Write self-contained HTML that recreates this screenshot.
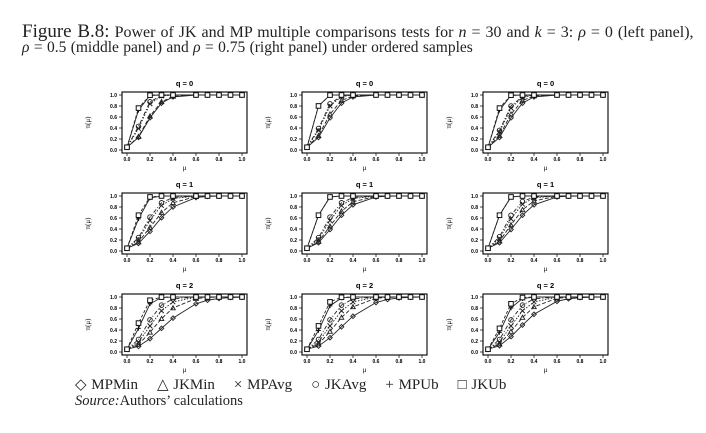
<!DOCTYPE html>
<html><head><meta charset="utf-8"><style>
body{margin:0;background:#fff;width:706px;height:433px;overflow:hidden;position:relative;font-family:"Liberation Serif",serif;}
.t{position:absolute;white-space:nowrap;color:#222;}
</style></head><body>
<div class="t" style="left:22px;top:21px;font-size:16px;word-spacing:1px;"><span style="font-size:19px">Figure B.8:</span> Power of JK and MP multiple comparisons tests for <i>n</i> = 30 and <i>k</i> = 3: <i>ρ</i> = 0 (left panel),</div>
<div class="t" style="left:22px;top:39px;font-size:15.5px;word-spacing:0.5px;"><i>ρ</i> = 0.5 (middle panel) and <i>ρ</i> = 0.75 (right panel) under ordered samples</div>
<div class="t" style="left:75px;top:375px;font-size:15px;word-spacing:1px;">◇ MPMin &nbsp;&nbsp; △ JKMin &nbsp;&nbsp; × MPAvg &nbsp;&nbsp; ○ JKAvg &nbsp;&nbsp; + MPUb &nbsp;&nbsp; □ JKUb</div>
<div class="t" style="left:75px;top:393px;font-size:14.5px;"><i>Source:</i>Authors’ calculations</div>
<svg id="s" width="706" height="433" style="position:absolute;left:0;top:0"></svg>
<script>
var S=document.getElementById('s'),h='';
var cx=[127,307,488],ry=[95,196,297],W=115,H=55;
var sp=[
 [[.22,.21,.15,.14,.09,.085],[.22,.2,.16,.15,.08,.08],[.22,.2,.17,.16,.09,.085]],
 [[.32,.28,.23,.21,.11,.1],[.3,.27,.23,.21,.1,.1],[.3,.26,.22,.2,.1,.1]],
 [[.42,.32,.26,.22,.14,.12],[.4,.31,.26,.22,.15,.13],[.38,.31,.26,.22,.16,.14]]];
var xs=[0,.1,.2,.3,.4,.6,.7,.8,.9,1];
var dash=['','4,2','1.5,1.5','4,2,1,2','','3,2'];
function mk(t,x,y){var r=2.3;
 if(t==0)return '<path d="M'+x+' '+(y-r)+'L'+(x+r)+' '+y+'L'+x+' '+(y+r)+'L'+(x-r)+' '+y+'Z" fill="none" stroke="#222" stroke-width=".9"/>';
 if(t==1)return '<path d="M'+x+' '+(y-r)+'L'+(x+r)+' '+(y+r*.8)+'L'+(x-r)+' '+(y+r*.8)+'Z" fill="none" stroke="#222" stroke-width=".9"/>';
 if(t==2)return '<path d="M'+(x-r)+' '+(y-r)+'L'+(x+r)+' '+(y+r)+'M'+(x+r)+' '+(y-r)+'L'+(x-r)+' '+(y+r)+'" stroke="#222" stroke-width="1"/>';
 if(t==3)return '<circle cx="'+x+'" cy="'+y+'" r="'+r+'" fill="none" stroke="#222" stroke-width=".9"/>';
 if(t==4)return '<path d="M'+(x-r)+' '+y+'L'+(x+r)+' '+y+'M'+x+' '+(y-r)+'L'+x+' '+(y+r)+'" stroke="#111" stroke-width="1.1"/>';
 return '<rect x="'+(x-r)+'" y="'+(y-r)+'" width="'+2*r+'" height="'+2*r+'" fill="#fff" stroke="#111" stroke-width="1"/>';}
for(var r=0;r<3;r++)for(var c=0;c<3;c++){
 var x0=cx[c],y1=ry[r],y0=y1+H;
 h+='<rect x="'+(x0-5)+'" y="'+(y1-3)+'" width="'+(W+10)+'" height="'+(H+6)+'" fill="none" stroke="#000" stroke-width="1.1"/>';
 h+='<text x="'+(x0+W/2)+'" y="'+(y1-9)+'" font-family="Liberation Sans" font-weight="bold" font-size="7.5" text-anchor="middle">q = '+r+'</text>';
 for(var i=0;i<=5;i++){var yy=y0-i*H/5,xx=x0+i*W/5;
  h+='<line x1="'+(x0-5)+'" x2="'+(x0-8)+'" y1="'+yy+'" y2="'+yy+'" stroke="#000" stroke-width=".7"/>';
  h+='<text x="'+(x0-10)+'" y="'+(yy+1.8)+'" font-family="Liberation Sans" font-weight="bold" font-size="5" text-anchor="end">'+(i/5).toFixed(1)+'</text>';
  h+='<line x1="'+xx+'" x2="'+xx+'" y1="'+(y0+3)+'" y2="'+(y0+6)+'" stroke="#000" stroke-width=".7"/>';
  h+='<text x="'+xx+'" y="'+(y0+11)+'" font-family="Liberation Sans" font-weight="bold" font-size="5" text-anchor="middle">'+(i/5).toFixed(1)+'</text>';}
 h+='<text x="'+(x0+W/2)+'" y="'+(y0+20)+'" font-family="Liberation Serif" font-size="7" text-anchor="middle">μ</text>';
 h+='<text transform="translate('+(x0-37)+','+(y1+H/2)+') rotate(-90)" font-family="Liberation Serif" font-size="7" text-anchor="middle">π(μ)</text>';
 for(var k=0;k<6;k++){var s=sp[r][c][k],pts=[];
  for(var j=0;j<xs.length;j++){var p=1-0.95*Math.exp(-Math.pow(xs[j]/s,2));pts.push([x0+xs[j]*W,y0-p*H]);}
  h+='<polyline points="'+pts.map(function(q){return q.join(',')}).join(' ')+'" fill="none" stroke="#222" stroke-width=".9" stroke-dasharray="'+dash[k]+'"/>';
  pts.forEach(function(q){h+=mk(k,q[0],q[1]);});}
}
S.innerHTML=h;
</script>
</body></html>
